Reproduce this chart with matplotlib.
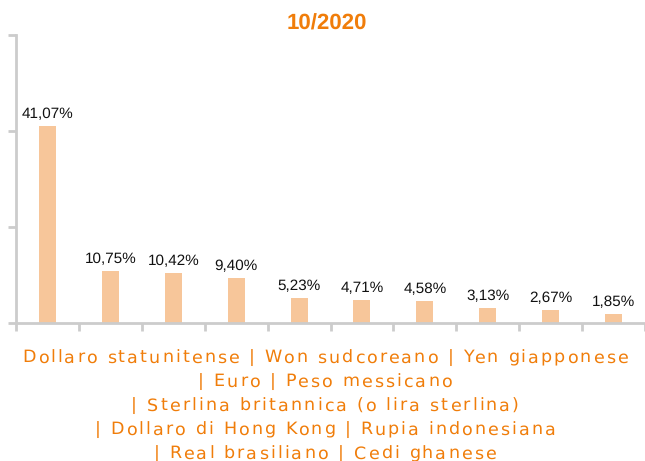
import matplotlib
matplotlib.use("Agg")
import matplotlib.pyplot as plt
from matplotlib.font_manager import FontProperties, findfont, get_font
from matplotlib._text_helpers import layout

plt.rcParams["text.hinting"] = "no_hinting"

# valute e quote (10/2020)
valute = ["Dollaro statunitense", "Won sudcoreano", "Yen giapponese", "Euro",
          "Peso messicano", "Sterlina britannica (o lira sterlina)",
          "Dollaro di Hong Kong", "Rupia indonesiana", "Real brasiliano",
          "Cedi ghanese"]
quote = [41.07, 10.75, 10.42, 9.40, 5.23, 4.71, 4.58, 3.13, 2.67, 1.85]
etichette = ["41,07%", "10,75%", "10,42%", "9,40%", "5,23%", "4,71%",
             "4,58%", "3,13%", "2,67%", "1,85%"]
righe_legenda = [
    "Dollaro statunitense | Won sudcoreano | Yen giapponese",
    "| Euro | Peso messicano",
    "| Sterlina britannica (o lira sterlina)",
    "| Dollaro di Hong Kong | Rupia indonesiana",
    "| Real brasiliano | Cedi ghanese",
]

arancio = "#F07D0A"
barra = "#F7C69A"
grigio = "#CCCCCC"

W, H = 645, 461
fig = plt.figure(figsize=(W / 100, H / 100), dpi=100)
ax = fig.add_axes([16 / W, 1 - 323 / H, 1 - 16 / W, (323 - 35) / H])

x = list(range(len(quote)))
ax.bar(x, quote, width=0.27, color=barra)
for xi, q, lab in zip(x, quote, etichette):
    ax.text(xi, q + 1.0, lab, ha="center", va="bottom", fontsize=11,
            family="Liberation Sans", color="#111111")

ax.set_xlim(-0.5, len(quote) - 0.5)
ax.set_ylim(0, 60)
ax.set_yticks([0, 20, 40, 60])
ax.set_yticklabels([])
ax.set_xticks([i - 0.5 for i in range(len(quote) + 1)])
ax.set_xticklabels([])
ax.tick_params(colors=grigio, width=2, length=6)
for s in ["top", "right"]:
    ax.spines[s].set_visible(False)
for s in ["left", "bottom"]:
    ax.spines[s].set_color(grigio)
    ax.spines[s].set_linewidth(2)

fig.text(0.507, 1 - 24 / H, "10/2020", ha="center", va="center",
         fontsize=16, fontweight="bold", family="Liberation Sans", color=arancio)

# testo con spaziatura tra le lettere: posizioni dal layout del font
size = 12.6
fp = FontProperties(family="DejaVu Sans", size=size)
font = get_font(findfont(fp))
font.set_size(size, 100)


def posizioni(riga):
    xs = [item.x for item in layout(riga, font)]
    ultimo = font.load_char(ord(riga[-1]))
    return xs, xs[-1] + ultimo.linearHoriAdvance / 65536


xs0, larg0 = posizioni(righe_legenda[0])
tracking = (606 - larg0) / (len(righe_legenda[0]) - 1)
cx = 325
for i, riga in enumerate(righe_legenda):
    xs, larg = posizioni(riga)
    x0 = cx - (larg + tracking * (len(riga) - 1)) / 2
    y = 1 - (356 + 24 * i) / H
    for k, c in enumerate(riga):
        if c != " ":
            fig.text((x0 + xs[k] + tracking * k) / W, y, c, ha="left",
                     va="center_baseline", fontproperties=fp, color=arancio)

fig.savefig("out.png", dpi=100)
